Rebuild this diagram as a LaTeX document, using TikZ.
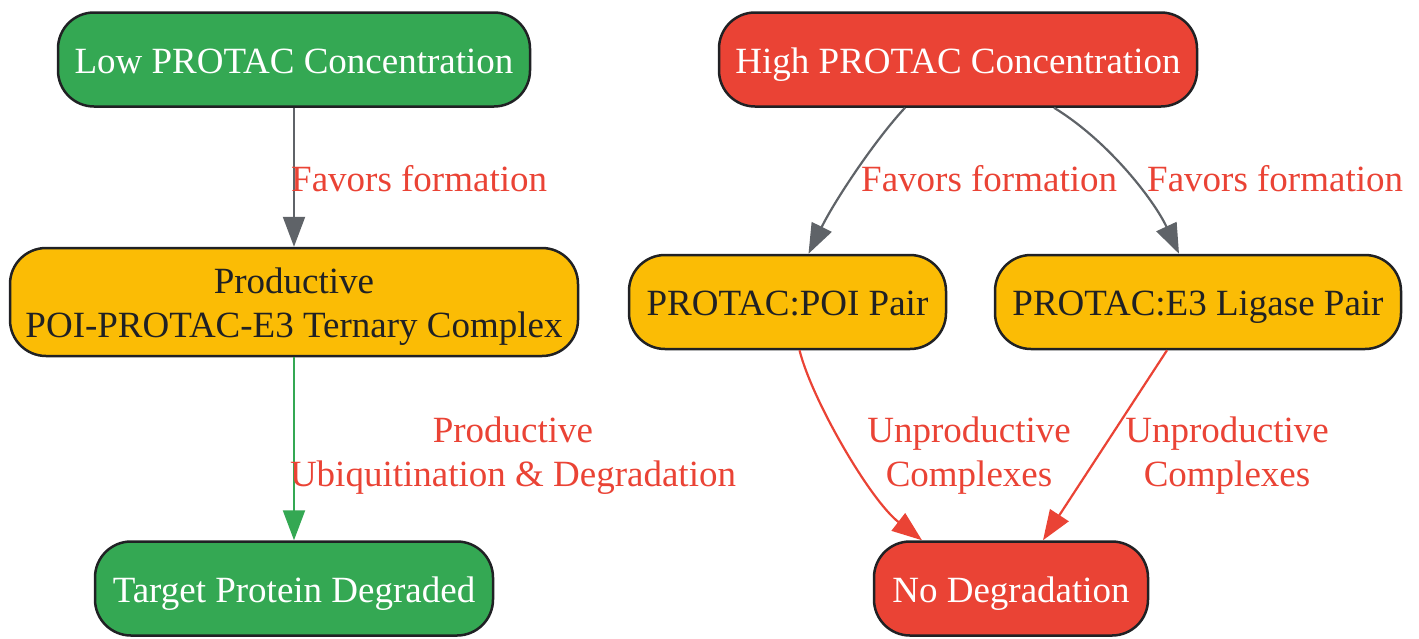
\documentclass[tikz,border=0pt]{standalone}
\usepackage{fontspec}
\setmainfont{Liberation Serif}
\usetikzlibrary{arrows.meta}
\definecolor{gGreen}{HTML}{34A853}
\definecolor{gRed}{HTML}{EA4335}
\definecolor{gYellow}{HTML}{FBBC05}
\definecolor{gGray}{HTML}{5F6368}
\definecolor{gDark}{HTML}{202124}
\tikzset{
  box/.style={draw=gDark, line width=2.5pt, rounded corners=36pt, inner sep=0pt, align=center, font=\fontsize{37pt}{44pt}\selectfont, text height=27pt, text depth=0pt},
  greenbox/.style={box, fill=gGreen, text=white},
  redbox/.style={box, fill=gRed, text=white},
  yellowbox/.style={box, fill=gYellow, text=gDark},
  lbl/.style={text=gRed, inner sep=0pt, align=center, font=\fontsize{37pt}{44pt}\selectfont},
  arr/.style={line width=2.2pt, -{Triangle[length=30pt,width=22pt]}},
  grayarr/.style={arr, color=gGray},
  greenarr/.style={arr, color=gGreen},
  redarr/.style={arr, color=gRed}
}
\begin{document}
\begin{tikzpicture}[x=1pt,y=-1pt]
\useasboundingbox (0,0) rectangle (1419,638);
\node[greenbox, minimum width=472pt, minimum height=94pt] (low) at (294,59.5) {Low PROTAC Concentration};
\node[redbox, minimum width=478pt, minimum height=94pt] (high) at (958,59.5) {High PROTAC Concentration};
\node[yellowbox, minimum width=568pt, minimum height=108pt, text height=71pt, text depth=0pt] (tern) at (294,302) {Productive\\POI-PROTAC-E3 Ternary Complex};
\node[yellowbox, minimum width=317pt, minimum height=94pt] (poi) at (787.5,302) {PROTAC:POI Pair};
\node[yellowbox, minimum width=406pt, minimum height=94pt] (e3) at (1198,302) {PROTAC:E3 Ligase Pair};
\node[greenbox, minimum width=398pt, minimum height=94pt] (target) at (294,588.5) {Target Protein Degraded};
\node[redbox, minimum width=274pt, minimum height=94pt] (nodeg) at (1011,588.5) {No Degradation};

\draw[grayarr] (low.south) -- (tern.north);
\draw[greenarr] (tern.south) -- (target.north);
\draw[grayarr] ([xshift=-53pt]high.south) .. controls (875,140) and (835,200) .. ([xshift=21pt]poi.north);
\draw[grayarr] ([xshift=96pt]high.south) .. controls (1110,142) and (1155,202) .. ([xshift=-19pt]e3.north);
\draw[redarr] ([xshift=12pt]poi.south) .. controls (812,400) and (870,500) .. ([xshift=-89pt]nodeg.north);
\draw[redarr] ([xshift=-31pt]e3.south) -- ([xshift=32pt]nodeg.north);

\node[lbl, anchor=base west] (l1) at (291,191) {Favors formation};
\node[lbl, anchor=base west] (l2) at (861,191) {Favors formation};
\node[lbl, anchor=base west] (l3) at (1147,191) {Favors formation};
\node[lbl] (l4) at (513,456) {Productive\\Ubiquitination \& Degradation};
\node[lbl] (l5) at (969,456) {Unproductive\\Complexes};
\node[lbl] (l6) at (1227,456) {Unproductive\\Complexes};
\end{tikzpicture}
\end{document}
